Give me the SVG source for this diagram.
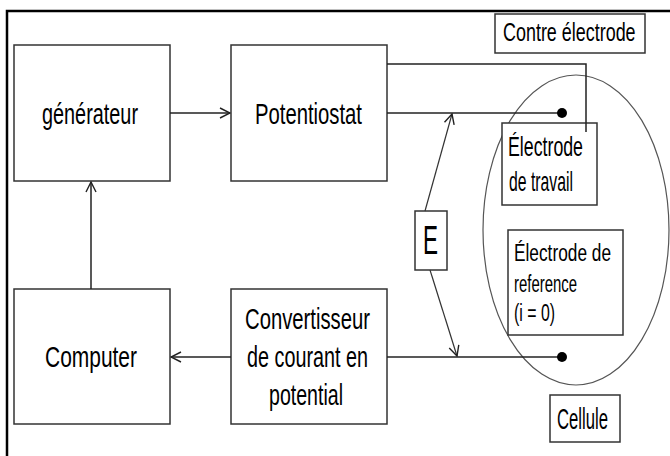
<svg xmlns="http://www.w3.org/2000/svg" width="670" height="456" viewBox="0 0 670 456">
<defs>
<style>
.box{fill:#fff;stroke:#333;stroke-width:1.5}
.ln{fill:none;stroke:#222;stroke-width:1.5}
.thin{fill:none;stroke:#333;stroke-width:1.2}
text{font-family:"Liberation Sans",Arial,sans-serif;fill:#000}
.big{font-size:30px}
.mid{font-size:28px}
.sm{font-size:23px}
</style>
<marker id="arr" viewBox="0 0 12 12" refX="11" refY="6" markerWidth="12" markerHeight="12" markerUnits="userSpaceOnUse" orient="auto">
<path d="M1,1 L11,6 L1,11" fill="none" stroke="#222" stroke-width="1.4"/>
</marker>
</defs>
<rect width="670" height="456" fill="#fff"/>
<path d="M7,456 V11 H670" fill="none" stroke="#000" stroke-width="2.5"/>

<ellipse cx="576" cy="230" rx="93" ry="155" fill="none" stroke="#555" stroke-width="1.2"/>

<g id="generateur">
<rect class="box" x="14" y="45" width="156" height="136"/>
<text class="big" x="42" y="124" textLength="96" lengthAdjust="spacingAndGlyphs">générateur</text>
</g>
<g id="potentiostat">
<rect class="box" x="231" y="45" width="156" height="136"/>
<text class="big" x="255" y="124" textLength="107" lengthAdjust="spacingAndGlyphs">Potentiostat</text>
</g>
<g id="computer">
<rect class="box" x="14" y="289" width="156" height="135"/>
<text class="big" x="45" y="367" textLength="92" lengthAdjust="spacingAndGlyphs">Computer</text>
</g>
<g id="convertisseur">
<rect class="box" x="231" y="289" width="156" height="135"/>
<text class="big" x="245" y="329" textLength="125" lengthAdjust="spacingAndGlyphs">Convertisseur</text>
<text class="big" x="247" y="367" textLength="121" lengthAdjust="spacingAndGlyphs">de courant en</text>
<text class="big" x="269" y="405" textLength="74" lengthAdjust="spacingAndGlyphs">potential</text>
</g>
<g id="contre-electrode">
<rect class="box" x="495" y="14" width="150" height="39"/>
<text style="font-size:26px" transform="translate(503,41) scale(0.69,1)">Contre électrode</text>
</g>
<g id="electrode-travail">
<rect class="box" x="502" y="123" width="95" height="82"/>
<text class="mid" x="508" y="156" textLength="75" lengthAdjust="spacingAndGlyphs">Électrode</text>
<text class="mid" x="509" y="191" textLength="64" lengthAdjust="spacingAndGlyphs">de travail</text>
</g>
<g id="electrode-reference">
<rect class="box" x="508" y="230" width="115" height="105"/>
<text class="sm" x="514" y="261" textLength="97" lengthAdjust="spacingAndGlyphs">Électrode de</text>
<text class="sm" x="514" y="292" textLength="63" lengthAdjust="spacingAndGlyphs">reference</text>
<text class="sm" x="514" y="321" textLength="41" lengthAdjust="spacingAndGlyphs">(i = 0)</text>
</g>
<g id="E">
<rect class="box" x="415" y="211" width="32" height="59"/>
<text style="font-size:40px" x="423" y="254" textLength="15" lengthAdjust="spacingAndGlyphs">E</text>
</g>
<g id="cellule">
<rect class="box" x="550" y="395" width="70" height="47"/>
<text style="font-size:29px" x="557" y="429" textLength="51" lengthAdjust="spacingAndGlyphs">Cellule</text>
</g>

<g id="connectors">
<line class="ln" x1="170" y1="113" x2="230" y2="113" marker-end="url(#arr)"/>
<line class="ln" x1="91" y1="289" x2="91" y2="182" marker-end="url(#arr)"/>
<line class="ln" x1="231" y1="357" x2="171" y2="357" marker-end="url(#arr)"/>
<polyline class="ln" points="387,64 586,64 586,132"/>
<line class="ln" x1="387" y1="113" x2="562" y2="113"/>
<line class="ln" x1="387" y1="357" x2="562" y2="357"/>
<circle cx="562" cy="113" r="5" fill="#000"/>
<circle cx="562" cy="357" r="5" fill="#000"/>
<line class="thin" x1="425" y1="211" x2="452" y2="114" marker-end="url(#arr)"/>
<line class="thin" x1="430" y1="270" x2="457" y2="356" marker-end="url(#arr)"/>
</g>
</svg>
